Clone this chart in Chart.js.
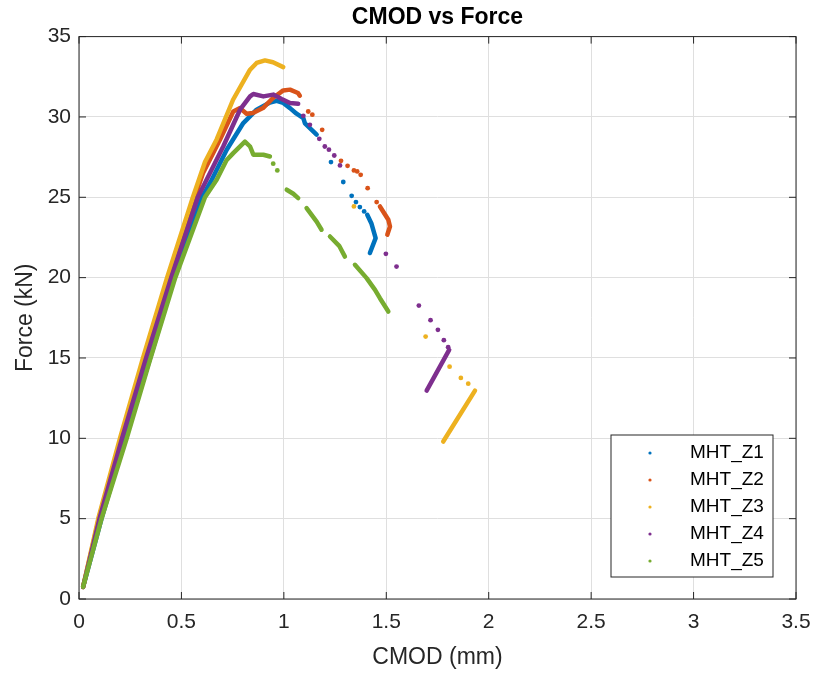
<!DOCTYPE html>
<html>
<head>
<meta charset="utf-8">
<title>CMOD vs Force</title>
<script src="https://cdn.jsdelivr.net/npm/chart.js@4.4.1/dist/chart.umd.min.js"></script>
<style>
  body { margin: 0; background: #fff; }
  #wrap { width: 814px; height: 673px; }
</style>
</head>
<body>
<div id="wrap"><canvas id="cmodChart" width="814" height="673"></canvas></div>
<script>
// Nomes das séries e eixos
const seriesNames = ['MHT_Z1', 'MHT_Z2', 'MHT_Z3', 'MHT_Z4', 'MHT_Z5'];
const seriesColors = ['#0072BD', '#D95319', '#EDB120', '#7E2F8E', '#77AC30'];
const xTicks = [0, 0.5, 1, 1.5, 2, 2.5, 3, 3.5];
const yTicks = [0, 5, 10, 15, 20, 25, 30, 35];

// Trechos densos [CMOD mm, Força kN]; null = quebra
const z1Curve = [[0.02, 0.75], [0.11, 5], [0.225, 10], [0.345, 14.9], [0.465, 20], [0.6, 25], [0.648, 26.09],
  [0.721, 27.96], [0.802, 29.62], [0.867, 30.45], [0.932, 30.9], [0.965, 31.0], [0.997, 30.87], [1.03, 30.55],
  [1.062, 30.2], [1.095, 29.93], [1.103, 29.6], [1.16, 28.9], null,
  [1.407, 23.91], [1.428, 23.35], [1.448, 22.46], [1.42, 21.53]];
const z2Curve = [[0.02, 0.75], [0.097, 5], [0.205, 10], [0.315, 14.9], [0.44, 20], [0.565, 25], [0.605, 26.5],
  [0.688, 28.58], [0.753, 30.34], [0.786, 30.55], [0.818, 30.2], [0.849, 30.24], [0.898, 30.55], [0.947, 31.18],
  [0.997, 31.65], [1.03, 31.7], [1.069, 31.49], [1.078, 31.32], null,
  [1.469, 24.43], [1.51, 23.6], [1.518, 23.18], [1.505, 22.67]];
const z3Curve = [[0.02, 0.75], [0.094, 5], [0.2, 10], [0.31, 14.9], [0.43, 20], [0.556, 25], [0.615, 27.2],
  [0.672, 28.6], [0.752, 31.07], [0.835, 32.94], [0.867, 33.36], [0.908, 33.52], [0.947, 33.4], [0.997, 33.1], null,
  [1.933, 12.97], [1.778, 9.8]];
const z4Curve = [[0.02, 0.75], [0.1, 5], [0.21, 10], [0.325, 14.9], [0.45, 20], [0.58, 25], [0.623, 26.09],
  [0.704, 28.16], [0.786, 30.45], [0.835, 31.28], [0.851, 31.43], [0.9, 31.28], [0.948, 31.39], [0.989, 31.12],
  [1.03, 30.87], [1.07, 30.82], null,
  [1.807, 15.5], [1.697, 12.97]];
const z5Curve = [[0.02, 0.75], [0.11, 5], [0.233, 10], [0.347, 14.9], [0.47, 20], [0.615, 25], [0.672, 26.09],
  [0.72, 27.3], [0.753, 27.75], [0.81, 28.47], [0.835, 28.16], [0.851, 27.65], [0.9, 27.65], [0.932, 27.54], null,
  [1.014, 25.47], [1.046, 25.22], [1.07, 24.95], null,
  [1.111, 24.33], [1.16, 23.49], [1.184, 22.98], null,
  [1.225, 22.56], [1.27, 21.98], [1.298, 21.31], null,
  [1.347, 20.8], [1.404, 19.97], [1.445, 19.24], [1.469, 18.72], [1.51, 17.89]];

// Pontos isolados (pós-pico)
const z1Dots = [[1.23, 27.19], [1.29, 25.95], [1.331, 25.09], [1.352, 24.7], [1.371, 24.39], [1.392, 24.12]];
const z2Dots = [[1.119, 30.34], [1.139, 30.14], [1.187, 29.2], [1.279, 27.27], [1.311, 26.96], [1.342, 26.67],
  [1.358, 26.61], [1.375, 26.4], [1.409, 25.57], [1.453, 24.7]];
const z3Dots = [[1.342, 24.43], [1.692, 16.33], [1.809, 14.46], [1.864, 13.76], [1.9, 13.4]];
const z4Dots = [[1.095, 30.07], [1.127, 29.51], [1.173, 28.64], [1.2, 28.16], [1.22, 27.96], [1.246, 27.6],
  [1.274, 26.98], [1.498, 21.48], [1.55, 20.69], [1.659, 18.26], [1.716, 17.35], [1.752, 16.75], [1.781, 16.11],
  [1.802, 15.67]];
const z5Dots = [[0.948, 27.09], [0.968, 26.67]];

const curves = [z1Curve, z2Curve, z3Curve, z4Curve, z5Curve];
const dots = [z1Dots, z2Dots, z3Dots, z4Dots, z5Dots];

const FONT = '"Liberation Sans", Arial, Helvetica, sans-serif';
const AXIS_COLOR = '#262626';

function toPoints(list) {
    return list.map(p => p ? { x: p[0], y: p[1] } : { x: null, y: null });
}

const datasets = [];
seriesNames.forEach((name, i) => {
    datasets.push({
        label: name,
        data: toPoints(curves[i]),
        showLine: true,
        borderColor: seriesColors[i],
        borderWidth: 4.5,
        borderCapStyle: 'round',
        borderJoinStyle: 'round',
        pointRadius: 0,
        order: 5 - i
    });
    datasets.push({
        label: name + ' pts',
        data: toPoints(dots[i]),
        showLine: false,
        backgroundColor: seriesColors[i],
        borderWidth: 0,
        pointRadius: 2.4,
        order: 5 - i
    });
});

// Moldura com ticks para dentro (estilo MATLAB)
const framePlugin = {
    id: 'frame',
    afterDatasetsDraw(chart) {
        const { ctx, chartArea: a, scales } = chart;
        const len = 7;
        ctx.save();
        ctx.strokeStyle = AXIS_COLOR;
        ctx.lineWidth = 1;
        ctx.strokeRect(a.left, a.top, a.right - a.left, a.bottom - a.top);
        ctx.beginPath();
        xTicks.forEach(v => {
            const px = scales.x.getPixelForValue(v);
            ctx.moveTo(px, a.bottom); ctx.lineTo(px, a.bottom - len);
            ctx.moveTo(px, a.top); ctx.lineTo(px, a.top + len);
        });
        yTicks.forEach(v => {
            const py = scales.y.getPixelForValue(v);
            ctx.moveTo(a.left, py); ctx.lineTo(a.left + len, py);
            ctx.moveTo(a.right, py); ctx.lineTo(a.right - len, py);
        });
        ctx.stroke();
        ctx.restore();
    }
};

// Legenda dentro do gráfico, canto inferior direito
const legendPlugin = {
    id: 'boxLegend',
    afterDraw(chart) {
        const { ctx, chartArea: a } = chart;
        const w = 162, h = 142;
        const x0 = a.right - 23 - w;
        const y0 = a.bottom - 22 - h;
        ctx.save();
        ctx.fillStyle = '#fff';
        ctx.fillRect(x0, y0, w, h);
        ctx.strokeStyle = AXIS_COLOR;
        ctx.lineWidth = 1;
        ctx.strokeRect(x0, y0, w, h);
        ctx.font = '19px ' + FONT;
        ctx.textBaseline = 'middle';
        seriesNames.forEach((name, i) => {
            const cy = y0 + 18 + i * 27;
            ctx.fillStyle = seriesColors[i];
            ctx.beginPath();
            ctx.arc(x0 + 39, cy, 1.6, 0, Math.PI * 2);
            ctx.fill();
            ctx.fillStyle = '#000';
            ctx.fillText(name, x0 + 79, cy);
        });
        ctx.restore();
    }
};

const ctx = document.getElementById('cmodChart').getContext('2d');
const cmodChart = new Chart(ctx, {
    type: 'scatter',
    data: { datasets },
    options: {
        responsive: false,
        animation: false,
        layout: { padding: { top: 0, right: 18, bottom: 0, left: 0 } },
        plugins: {
            legend: { display: false },
            tooltip: { enabled: false },
            title: {
                display: true,
                text: 'CMOD vs Force',
                fullSize: false,
                color: '#000',
                font: { family: FONT, size: 23, weight: 'bold' },
                padding: { top: 4, bottom: 5 }
            }
        },
        scales: {
            x: {
                type: 'linear',
                min: 0,
                max: 3.5,
                afterBuildTicks: s => { s.ticks = xTicks.map(v => ({ value: v })); },
                afterFit: s => { s.height = 74; s.paddingLeft = 0; s.paddingRight = 0; },
                grid: { color: '#dfdfdf', drawTicks: false },
                border: { display: false },
                ticks: { color: AXIS_COLOR, font: { family: FONT, size: 21 }, padding: 11, maxRotation: 0,
                         callback: v => String(v) },
                title: { display: true, text: 'CMOD (mm)', color: AXIS_COLOR, font: { family: FONT, size: 23 }, padding: { top: 0, bottom: 2 } }
            },
            y: {
                type: 'linear',
                min: 0,
                max: 35,
                afterBuildTicks: s => { s.ticks = yTicks.map(v => ({ value: v })); },
                afterFit: s => { s.width = 79; },
                grid: { color: '#dfdfdf', drawTicks: false },
                border: { display: false },
                ticks: { color: AXIS_COLOR, font: { family: FONT, size: 21 }, padding: 8, callback: v => String(v) },
                title: { display: true, text: 'Force (kN)', color: AXIS_COLOR, font: { family: FONT, size: 23 }, padding: { top: 12, bottom: 0 } }
            }
        }
    },
    plugins: [framePlugin, legendPlugin]
});
</script>
</body>
</html>
